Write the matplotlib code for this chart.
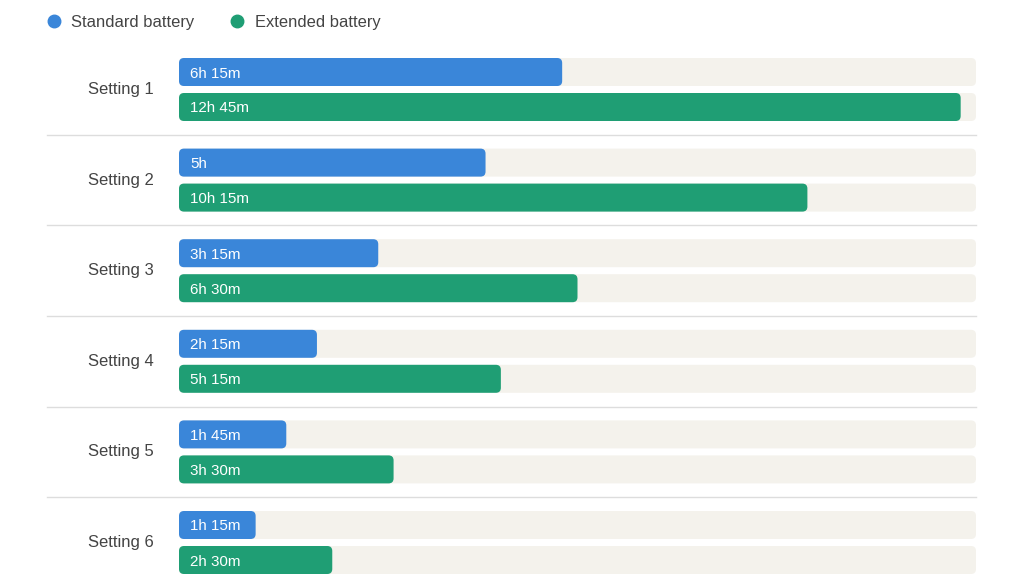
import matplotlib
matplotlib.use("Agg")
import matplotlib.pyplot as plt
from matplotlib.patches import FancyBboxPatch
from matplotlib.lines import Line2D

plt.rcParams['font.family'] = ['Liberation Sans', 'DejaVu Sans']

categories = ["Setting 1", "Setting 2", "Setting 3", "Setting 4", "Setting 5", "Setting 6"]
series_names = ["Standard battery", "Extended battery"]
standard_hours = [6.25, 5.0, 3.25, 2.25, 1.75, 1.25]
extended_hours = [12.75, 10.25, 6.5, 5.25, 3.5, 2.5]
standard_labels = ["6h 15m", "5h", "3h 15m", "2h 15m", "1h 45m", "1h 15m"]
extended_labels = ["12h 45m", "10h 15m", "6h 30m", "5h 15m", "3h 30m", "2h 30m"]
track_max = 13.0

c_std = "#3a86d9"
c_ext = "#1f9e74"
c_track = "#f4f2ec"
c_text = "#444444"
c_sep = "#dddddd"

W, H = 1024, 576
fig = plt.figure(figsize=(W / 100, H / 100), dpi=100)
fig.patch.set_facecolor("white")

left_px, right_px = 179, 976
pitch = 90.6
row0_center = 89.5
top_px = row0_center - pitch / 2
ymax = (H - row0_center) / pitch
ax = fig.add_axes([left_px / W, 0, (right_px - left_px) / W, 1 - top_px / H])
ax.set_xlim(0, track_max)
ax.set_ylim(ymax, -0.5)
ax.axis("off")

px_x = (right_px - left_px) / track_max  # px per hour
px_y = pitch                                # px per row unit
off = 17.5 / pitch
bh = 28 / pitch
radius = 5 / px_x
aspect = px_x / px_y

ys = list(range(len(categories)))
y_std = [y - off for y in ys]
y_ext = [y + off for y in ys]

def rounded(bars, color):
    for r in bars:
        r.set_visible(False)
        p = FancyBboxPatch((r.get_x(), r.get_y()), r.get_width(), r.get_height(),
                           boxstyle=f"round,pad=0,rounding_size={radius}",
                           mutation_aspect=aspect, facecolor=color,
                           edgecolor="none", zorder=r.get_zorder())
        ax.add_patch(p)

tr1 = ax.barh(y_std, [track_max] * len(ys), height=bh, zorder=1)
tr2 = ax.barh(y_ext, [track_max] * len(ys), height=bh, zorder=1)
rounded(tr1, c_track)
rounded(tr2, c_track)
b1 = ax.barh(y_std, standard_hours, height=bh, zorder=2)
b2 = ax.barh(y_ext, extended_hours, height=bh, zorder=2)
rounded(b1, c_std)
rounded(b2, c_ext)

tx = 11 / px_x
dy = 1.5 / px_y
for y, lab in zip(y_std, standard_labels):
    ax.text(tx, y + dy, lab, color="white", fontsize=10.9, va="center", ha="left", zorder=3)
for y, lab in zip(y_ext, extended_labels):
    ax.text(tx, y + dy, lab, color="white", fontsize=10.9, va="center", ha="left", zorder=3)

lab_x = -(left_px - 154) / px_x
for y, cat in zip(ys, categories):
    ax.text(lab_x, y, cat, color=c_text, fontsize=12, va="center", ha="right", clip_on=False)

sep_x0 = -(left_px - 47) / px_x
for y in ys[:-1]:
    ax.plot([sep_x0, track_max], [y + 0.5, y + 0.5], color=c_sep, lw=1, clip_on=False, zorder=0)

# legend
leg_y = 1 - 21 / H
for (cx, tx_px), name, col in zip([(54, 71), (237, 255)], series_names, [c_std, c_ext]):
    fig.add_artist(Line2D([cx / W], [leg_y], marker="o", linestyle="none",
                          markersize=9, color=col, transform=fig.transFigure))
    fig.text(tx_px / W, leg_y - 2 / H, name, color=c_text, fontsize=11.9, va="center", ha="left")

fig.savefig("out.png", dpi=100, facecolor="white")
